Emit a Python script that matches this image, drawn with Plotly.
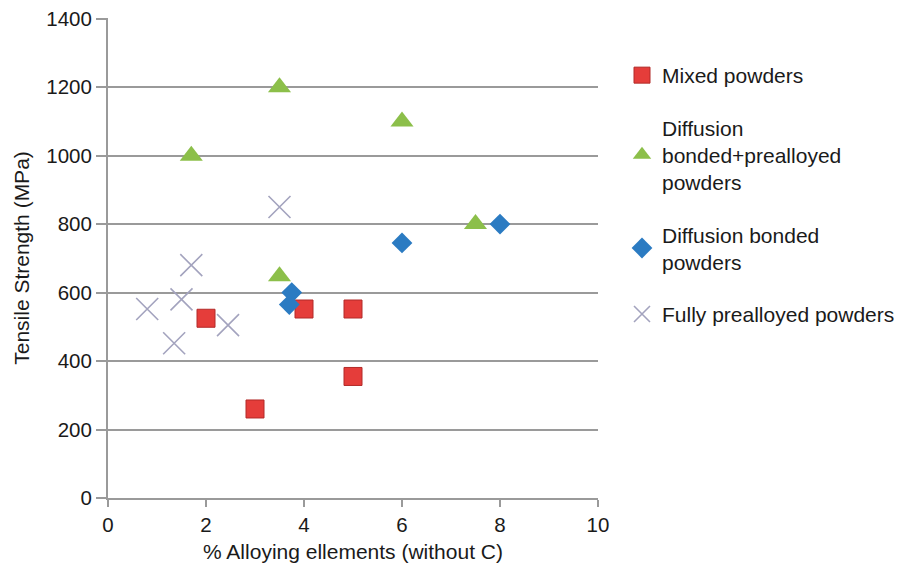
import plotly.graph_objects as go

# Data
mixed_x = [2.0, 3.0, 4.0, 5.0, 5.0]
mixed_y = [525, 260, 552, 552, 355]

dbpa_x = [1.7, 3.5, 3.5, 6.0, 7.5]
dbpa_y = [1000, 1200, 648, 1100, 800]

db_x = [3.75, 3.7, 6.0, 8.0]
db_y = [600, 565, 745, 800]

fp_x = [0.8, 1.5, 1.7, 1.35, 2.45, 3.5]
fp_y = [552, 580, 680, 452, 505, 850]

names = ["Mixed powders",
         "Diffusion<br>bonded+prealloyed<br>powders",
         "Diffusion bonded<br>powders",
         "Fully prealloyed powders"]

x_ticks = [0, 2, 4, 6, 8, 10]
y_ticks = [0, 200, 400, 600, 800, 1000, 1200, 1400]

FONT = "Liberation Sans, Arial, Helvetica, sans-serif"

fig = go.Figure()
fig.add_trace(go.Scatter(x=mixed_x, y=mixed_y, mode="markers", name=names[0], legendgroup="a",
                         marker=dict(symbol="square", size=18, color="#E53D3A",
                                     line=dict(color="#B22A28", width=1))))
fig.add_trace(go.Scatter(x=dbpa_x, y=dbpa_y, mode="markers", name=names[1], legendgroup="b",
                         marker=dict(symbol="triangle-up", size=20, color="#8CBF4A",
                                     line=dict(width=0))))
fig.add_trace(go.Scatter(x=db_x, y=db_y, mode="markers", name=names[2], legendgroup="c",
                         marker=dict(symbol="diamond", size=16, color="#2B7BC2",
                                     line=dict(width=0))))
fig.add_trace(go.Scatter(x=fp_x, y=fp_y, mode="markers", name=names[3], legendgroup="d",
                         marker=dict(symbol="x-thin-open", size=22, color="#A3A3BE",
                                     line=dict(color="#A3A3BE", width=1.6))))

fig.update_layout(
    width=894, height=564,
    margin=dict(l=100, r=304, t=10, b=74, autoexpand=False),
    paper_bgcolor="white", plot_bgcolor="white",
    font=dict(family=FONT, size=17.5, color="#1a1a1a"),
    legend=dict(xref="container", yref="container", x=614/894, y=1-47/564,
                xanchor="left", yanchor="top", tracegroupgap=22,
                font=dict(size=21), bgcolor="rgba(0,0,0,0)"),
    showlegend=True,
)
fig.update_xaxes(range=[0, 10], tickvals=x_ticks, showgrid=False, zeroline=False,
                 showline=True, linecolor="#9a9a9a", linewidth=2, automargin=False,
                 ticks="outside", ticklen=7, tickcolor="#9a9a9a", tickwidth=2,
                 title=dict(text="% Alloying ellements (without C)", standoff=10),
                 tickfont=dict(size=20.5))
fig.update_yaxes(range=[0, 1402], tickvals=y_ticks, showgrid=True, gridcolor="#9a9a9a",
                 gridwidth=2, zeroline=False, showline=True, linecolor="#9a9a9a", linewidth=2,
                 ticks="outside", ticklen=10, tickcolor="#9a9a9a", tickwidth=2,
                 ticklabeloverflow="allow", automargin=False,
                 title=dict(text="Tensile Strength (MPa)", standoff=11),
                 tickfont=dict(size=20.5))

fig.write_html("out.html")
